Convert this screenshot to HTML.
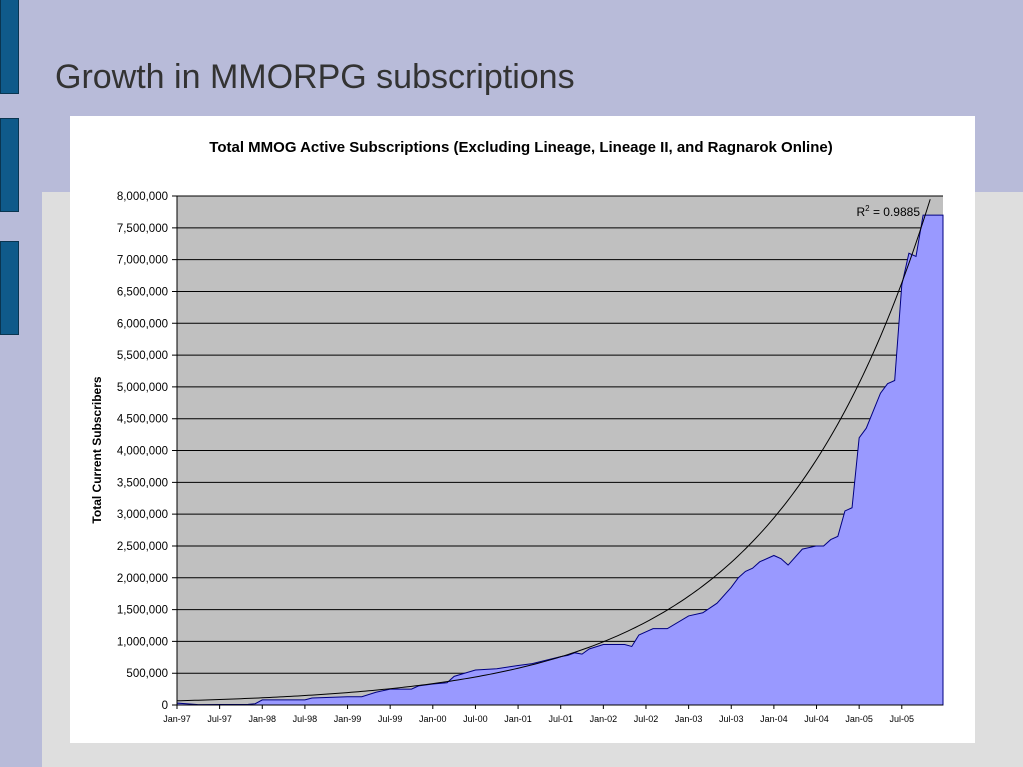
<!DOCTYPE html>
<html><head><meta charset="utf-8"><style>
body{margin:0;width:1023px;height:767px;overflow:hidden;background:#b8bbd9;position:relative;font-family:"Liberation Sans",sans-serif}
.blk{position:absolute;left:0;width:17px;background:#0f5a8a;border:1px solid #0a3550}
</style></head><body>
<div style="position:absolute;left:42px;top:192px;width:981px;height:575px;background:#dedede"></div>
<div class="blk" style="top:-1px;height:93px"></div>
<div class="blk" style="top:118px;height:92px"></div>
<div class="blk" style="top:241px;height:92px"></div>
<div style="position:absolute;left:55px;top:58px;font-size:34px;color:#333">Growth in MMORPG subscriptions</div>
<svg style="position:absolute;left:0;top:0" width="1023" height="767" id="svg"></svg>
<script>
const months=[0,3,10,11,12,18,19,24,26,28,30,33,34,36,38,39,42,45,48,50,54,55,56,57,58,60,63,64,65,66,67,69,72,74,76,78,79,80,81,82,84,85,86,88,90,91,92,93,94,95,96,97,99,100,101,102,103,104,105,107];
const subs=[30000,5000,10000,20000,80000,80000,110000,130000,130000,200000,250000,250000,300000,330000,350000,450000,550000,570000,620000,650000,760000,780000,820000,800000,880000,950000,950000,920000,1100000,1150000,1200000,1200000,1400000,1450000,1600000,1850000,2000000,2100000,2150000,2250000,2350000,2300000,2200000,2450000,2500000,2500000,2600000,2650000,3050000,3100000,4200000,4350000,4900000,5050000,5100000,6600000,7100000,7050000,7700000,7700000];
const yTicks=[0,500000,1000000,1500000,2000000,2500000,3000000,3500000,4000000,4500000,5000000,5500000,6000000,6500000,7000000,7500000,8000000];
const xLabels=["Jan-97","Jul-97","Jan-98","Jul-98","Jan-99","Jul-99","Jan-00","Jul-00","Jan-01","Jul-01","Jan-02","Jul-02","Jan-03","Jul-03","Jan-04","Jul-04","Jan-05","Jul-05"];
const trendA=66000, trendB=0.0452;
const L=177,R=943,T=196,B=705,maxM=107.8,maxV=8000000;
const X=m=>L+(m/maxM)*(R-L), Y=v=>B-(v/maxV)*(B-T);
const s=document.getElementById('svg'),NS="http://www.w3.org/2000/svg";
function el(t,a,txt){const e=document.createElementNS(NS,t);for(const k in a)e.setAttribute(k,a[k]);if(txt!=null)e.textContent=txt;s.appendChild(e);return e;}
let e;
e=el('rect',{x:70,y:116,width:905,height:627,fill:'#fff'});


e=el('text',{x:521,y:152,'text-anchor':'middle','font-size':15,'font-weight':'bold',fill:'#000'},'Total MMOG Active Subscriptions (Excluding Lineage, Lineage II, and Ragnarok Online)');


e=el('rect',{x:L,y:T,width:R-L,height:B-T,fill:'#c0c0c0'});


yTicks.forEach(v=>{
 e=el('line',{x1:L-5,x2:R,y1:Y(v),y2:Y(v),stroke:'#000','stroke-width':1});
 
 
 e=el('text',{x:L-9,y:Y(v)+4,'text-anchor':'end','font-size':11.5,fill:'#000'},v.toLocaleString('en-US'));
 
 
});
let d='M'+X(months[0])+','+B;
months.forEach((m,i)=>{d+=' L'+X(m)+','+Y(subs[i]);});
d+=' L'+X(maxM)+','+Y(subs[subs.length-1])+' L'+X(maxM)+','+B+' Z';
e=el('path',{d:d,fill:'#9999ff',stroke:'#000080','stroke-width':1});


let td='';
for(let m=0;m<=maxM;m+=0.5){const v=trendA*Math.exp(trendB*m);if(v>maxV)break;td+=(td?' L':'M')+X(m)+','+Y(v);}
e=el('path',{d:td,fill:'none',stroke:'#000','stroke-width':1});


e=el('line',{x1:L,x2:R,y1:B,y2:B,stroke:'#000'});


e=el('line',{x1:L,x2:L,y1:T,y2:B,stroke:'#000'});


xLabels.forEach((t,i)=>{const x=X(i*6);
 e=el('line',{x1:x,x2:x,y1:B,y2:B+4,stroke:'#000'});
 
 
 e=el('text',{x:x,y:B+17,'text-anchor':'middle','font-size':9,fill:'#000'},t);
 
 
});
e=el('text',{x:0,y:0,transform:'translate(101,450) rotate(-90)','text-anchor':'middle','font-size':12,'font-weight':'bold',fill:'#000'},'Total Current Subscribers');


e=el('text',{x:920,y:216,'text-anchor':'end','font-size':12,fill:'#000'});
e.innerHTML='R<tspan font-size="8" dy="-5">2</tspan><tspan dy="5"> = 0.9885</tspan>';


</script>
</body></html>
